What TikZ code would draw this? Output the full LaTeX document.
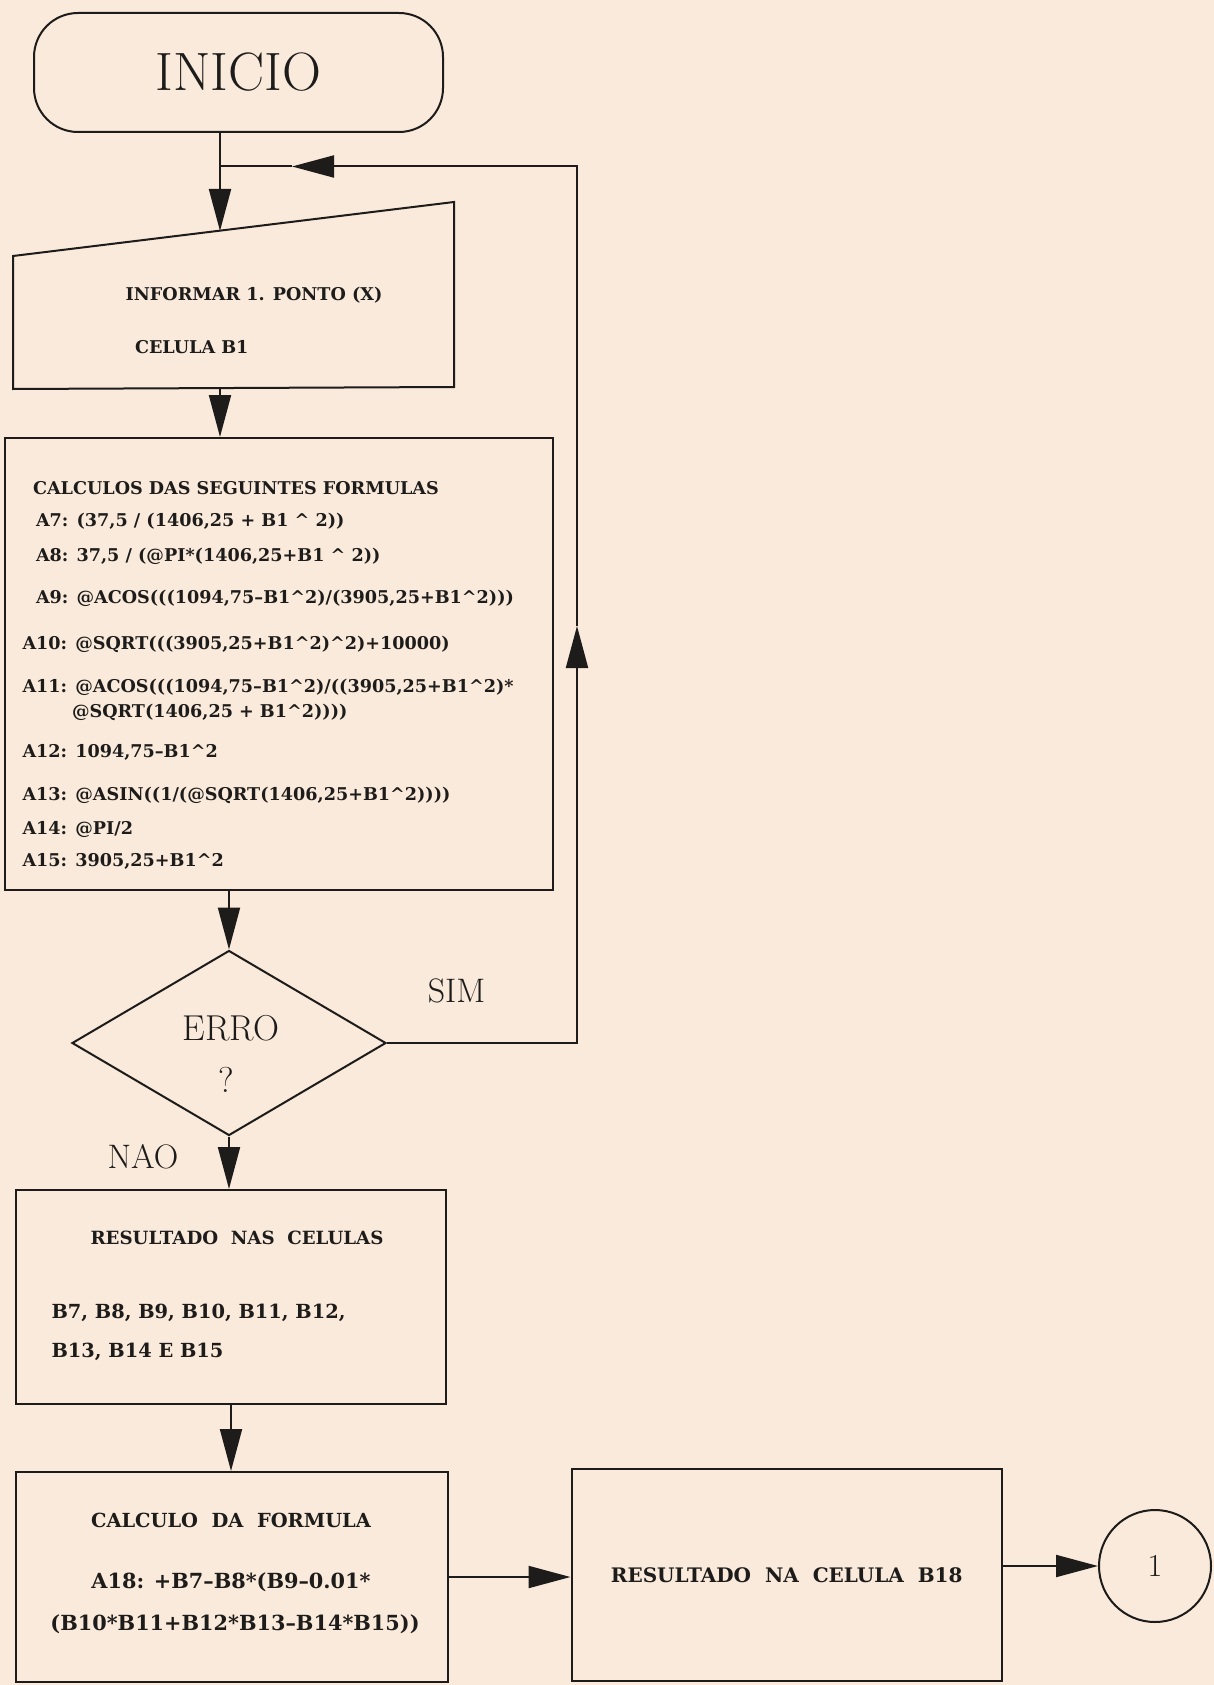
\documentclass[tikz,border=0pt]{standalone}
\usepackage{tikz}
\usetikzlibrary{positioning,arrows.meta,shapes.geometric}
\usepackage{xcolor}
\usepackage{fontspec}
\newfontfamily\cellface{DejaVu Serif}

\definecolor{paper}{RGB}{249,234,219}
\definecolor{ink}{RGB}{30,28,26}
\newlength\pxu
\setlength\pxu{0.5pt}
\newcommand\cellfont[1]{\fontsize{#1}{#1}\selectfont\cellface\bfseries}

\tikzset{
  term/.style={draw,rounded corners=22pt,minimum width=204.5pt,minimum height=59.5pt,font=\fontsize{27}{30}\selectfont},
  procbox/.style={draw,inner sep=0pt},
  decide/.style={draw,diamond,inner sep=0pt,minimum width=157pt,minimum height=92.5pt},
  cell/.style={font=\cellfont{8.8},inner sep=0pt},
  tag/.style={font=\fontsize{17}{19}\selectfont,inner sep=0pt},
  flow/.style={->},
}

\begin{document}
\begin{tikzpicture}[x=\pxu,y=-\pxu,color=ink,line width=1pt,>={Triangle[length=21pt,width=11pt]}]
\fill[paper] (0,0) rectangle (1214,1685);
\useasboundingbox (0,0) rectangle (1214,1685);

% start
\node[term] (ini) at (238.5,72.5) {INICIO};

% input card
\draw (13,256) -- (454,202) -- (454,387) -- (13,389) -- cycle;
\coordinate (inTop) at (220,231);
\coordinate (inBot) at (220,388);
\node[cell] (in1) at (254,295) {INFORMAR 1. PONTO (X)};
\node[cell,anchor=west] (in2) at (134,347) {CELULA B1};
\draw[flow] (ini.south -| inTop) -- (inTop);

% formulas
\node[procbox,minimum width=274pt,minimum height=226pt] (calc) at (279,664) {};
\node[cell,anchor=west] (f0) at (32,488) {CALCULOS DAS SEGUINTES FORMULAS};
\node[cell,anchor=west] (f1) at (35,521) {A7: (37,5 / (1406,25 + B1 \textasciicircum\ 2))};
\node[cell,anchor=west] (f2) at (35,556.5) {A8: 37,5 / (@PI*(1406,25+B1 \textasciicircum\ 2))};
\node[cell,anchor=west] (f3) at (35,598) {A9: @ACOS(((1094,75\textendash B1\textasciicircum2)/(3905,25+B1\textasciicircum2)))};
\node[cell,anchor=west] (f4) at (21.5,644.5) {A10: @SQRT(((3905,25+B1\textasciicircum2)\textasciicircum2)+10000)};
\node[cell,anchor=west] (f5) at (21.5,687.5) {A11: @ACOS(((1094,75\textendash B1\textasciicircum2)/((3905,25+B1\textasciicircum2)*};
\node[cell,anchor=west] (f6) at (71,712) {@SQRT(1406,25 + B1\textasciicircum2))))};
\node[cell,anchor=west] (f7) at (21.5,752) {A12: 1094,75\textendash B1\textasciicircum2};
\node[cell,anchor=west] (f8) at (21.5,795) {A13: @ASIN((1/(@SQRT(1406,25+B1\textasciicircum2))))};
\node[cell,anchor=west] (f9) at (21.5,829) {A14: @PI/2};
\node[cell,anchor=west] (f10) at (21.5,861.5) {A15: 3905,25+B1\textasciicircum2};
\draw[flow] (inBot) -- (inBot |- calc.north);

% test
\node[decide] (dec) at (229,1043) {};
\node[font=\fontsize{18}{20}\selectfont,inner sep=0pt] (erro) at (231,1028) {ERRO};
\node[font=\fontsize{18}{20}\selectfont,inner sep=0pt] (qm) at (226,1080) {?};
\draw[flow] (calc.south -| dec.north) -- (dec.north);

% back to input
\coordinate (loopR) at (577,1043);
\coordinate (upTip) at (577,626);
\coordinate (loopT) at (577,166.5);
\coordinate (leftTip) at (292,166.5);
\coordinate (join) at (220,166.5);
\draw[flow] (dec.east) -- (loopR) -- (upTip);
\draw[flow] (upTip) -- (loopT) -- (leftTip);
\draw (leftTip) -- (join);
\node[tag] (sim) at (456.5,990.5) {SIM};
\node[tag] (nao) at (143,1157) {NAO};

% results
\node[procbox,minimum width=215pt,minimum height=107pt] (res) at (231,1297) {};
\node[cell,font=\cellfont{9.1}] (r1) at (237,1238) {RESULTADO\ \ NAS\ \ CELULAS};
\node[cell,font=\cellfont{9.7},anchor=west] (r2) at (50.5,1313) {B7, B8, B9, B10, B11, B12,};
\node[cell,font=\cellfont{9.7},anchor=west] (r3) at (50.5,1352) {B13, B14 E B15};
\draw[flow] (dec.south) -- (dec.south |- res.north);

\node[procbox,minimum width=216pt,minimum height=105pt] (form) at (232,1577) {};
\node[cell,font=\cellfont{9.7}] (g1) at (231,1520) {CALCULO\ \ DA\ \ FORMULA};
\node[cell,font=\cellfont{10.4}] (g2) at (231,1582) {A18: +B7\textendash B8*(B9\textendash 0.01*};
\node[cell,font=\cellfont{10.4}] (g3) at (235,1624) {(B10*B11+B12*B13\textendash B14*B15))};
\draw[flow] (res.south) -- (res.south |- form.north);

\node[procbox,minimum width=215.25pt,minimum height=106.25pt,font=\cellfont{10}] (b18) at (786.75,1574.75) {RESULTADO\ \ NA\ \ CELULA\ \ B18};
\draw[flow] (form.east) -- (form.east -| b18.west);

% connector
\node[draw,circle,minimum size=56pt,inner sep=0pt,font=\fontsize{16}{18}\selectfont] (con) at (1155,1566) {1};
\draw[flow] (con.west -| b18.east) -- (con.west);
\end{tikzpicture}
\end{document}
